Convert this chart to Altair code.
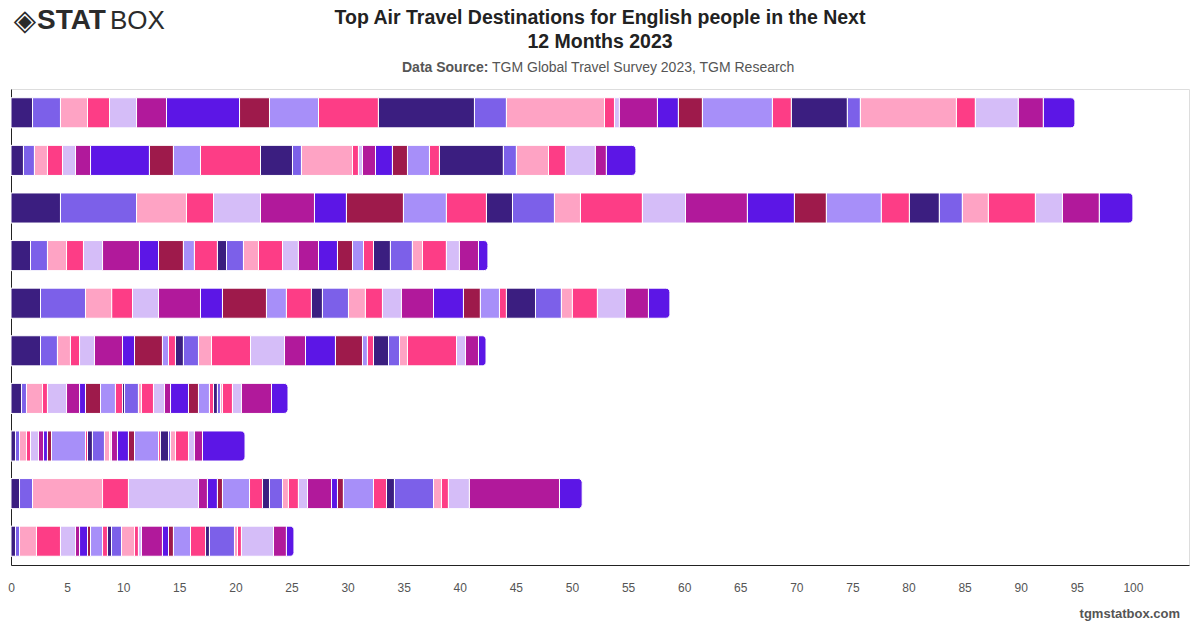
import altair as alt
import pandas as pd

# ---- data -------------------------------------------------------------
rows = [f"Group {i}" for i in range(1, 11)]
destinations = [f"Destination {i:02d}" for i in range(1, 28)]

row1 = [1.92, 2.49, 2.41, 1.96, 2.41, 2.67, 6.51, 2.67, 4.37, 5.34, 8.56, 2.85, 8.74, 0.89,
        0.44, 3.39, 1.87, 2.14, 6.24, 1.69, 4.99, 1.16, 8.56, 1.69, 3.83, 2.23, 2.81]
row2 = [1.11, 0.98, 1.16, 1.34, 1.16, 1.34, 5.25, 2.14, 2.41, 5.35, 2.85, 0.80, 4.55, 0.53,
        0.36, 1.16, 1.51, 1.34, 1.96, 0.89, 5.70, 1.16, 2.86, 1.51, 2.67, 0.98, 2.63]
row3 = [4.41, 6.78, 4.45, 2.41, 4.19, 4.81, 2.85, 5.08, 3.83, 3.57, 2.32, 3.74, 2.32, 5.52,
        3.84, 5.52, 4.19, 2.85, 4.90, 2.50, 2.67, 2.05, 2.32, 4.19, 2.41, 3.29, 2.99]
row4 = [1.74, 1.51, 1.70, 1.51, 1.70, 3.29, 1.70, 2.22, 0.98, 2.05, 0.81, 1.51, 1.34, 2.14,
        1.42, 1.79, 1.69, 1.34, 0.98, 0.89, 1.51, 1.96, 0.90, 2.13, 1.16, 1.70, 0.84]
row5 = [2.63, 4.01, 2.34, 1.85, 2.32, 3.74, 1.96, 3.92, 1.78, 2.23, 0.98, 2.32, 1.51, 1.52,
        1.69, 2.86, 2.67, 1.51, 1.70, 0.62, 2.59, 2.31, 0.98, 2.23, 2.50, 2.05, 1.91]
row6 = [2.63, 1.51, 1.16, 0.81, 1.33, 2.50, 1.07, 2.49, 0.54, 0.62, 0.71, 1.34, 1.16, 3.48,
        3.03, 1.87, 2.67, 2.41, 0.44, 0.54, 1.34, 0.98, 0.71, 4.37, 0.80, 1.16, 0.67]
row7 = [0.94, 0.44, 1.43, 0.44, 1.70, 1.16, 0.53, 1.34, 1.33, 0.63, 0.18, 1.24, 0.27, 1.07,
        0.98, 0.54, 1.60, 0.89, 0.98, 0.36, 0.35, 0.27, 0.18, 0.89, 0.80, 2.68, 1.47]
row8 = [0.40, 0.36, 0.62, 0.36, 0.71, 0.45, 0.35, 0.36, 3.03, 0.18, 0.44, 1.07, 0.45, 0.13,
        0.05, 0.53, 0.98, 0.54, 2.14, 0.17, 0.72, 0.18, 0.44, 1.16, 0.53, 0.72, 3.79]
row9 = [0.76, 1.16, 6.24, 2.31, 6.24, 0.80, 0.89, 0.45, 2.41, 1.16, 0.62, 1.16, 0.53, 0.89,
        0.81, 2.14, 0.53, 0.53, 2.68, 1.16, 0.71, 3.48, 0.71, 0.62, 1.87, 8.03, 2.02]
row10 = [0.40, 0.36, 1.51, 2.14, 1.34, 0.36, 0.71, 0.27, 1.07, 0.44, 0.36, 0.89, 1.16, 0.35,
         0.27, 1.87, 0.54, 0.44, 1.52, 1.34, 0.35, 2.23, 0.27, 0.35, 2.86, 1.15, 0.67]
series = [row1, row2, row3, row4, row5, row6, row7, row8, row9, row10]

tick_values = list(range(0, 101, 5))

palette = ["#3b1e80", "#7c60e9", "#fea3c4", "#fd3d86", "#d5bdf8",
           "#b1199b", "#5c16e6", "#9e1a4b", "#a78ff9", "#fd3d86"]
colors = [palette[i % len(palette)] for i in range(len(destinations))]

records = []
for r, vals in zip(rows, series):
    for i, (d, v) in enumerate(zip(destinations, vals)):
        records.append({"row": r, "dest": d, "idx": i + 1, "value": v})
df = pd.DataFrame(records)

FONT = "Liberation Sans"

# ---- chart ------------------------------------------------------------
x_scale = alt.Scale(domain=[0, 105], nice=False, zero=True)
y_scale = alt.Scale(domain=rows, paddingInner=0.368, paddingOuter=0.184)

base = alt.Chart(df).transform_stack(
    stack="value", groupby=["row"], as_=["x0", "x1"],
    sort=[alt.SortField("idx", order="ascending")]
)

enc = dict(
    y=alt.Y("row:N", scale=y_scale,
            axis=alt.Axis(labels=False, ticks=False, title=None, domainColor="#222222",
                          domainWidth=1)),
    x=alt.X("x0:Q", scale=x_scale,
            axis=alt.Axis(values=tick_values, title=None, ticks=False, grid=False,
                          labelPadding=17, labelFontSize=12, labelColor="#555555",
                          labelFont=FONT, labelFlush=False, domainColor="#222222",
                          domainWidth=1)),
    x2="x1:Q",
    color=alt.Color("dest:N", scale=alt.Scale(domain=destinations, range=colors), legend=None),
)

bars = base.transform_filter(alt.datum.idx < 27).mark_bar(
    stroke="white", strokeWidth=1).encode(**enc)
ends = base.transform_filter(alt.datum.idx == 27).mark_bar(
    stroke="white", strokeWidth=1, cornerRadiusTopRight=4, cornerRadiusBottomRight=4
).encode(**enc)

def txt(text, x, y, font=FONT, **kw):
    return alt.Chart(pd.DataFrame({"t": [text]})).mark_text(font=font, **kw).encode(
        text="t:N", x=alt.value(x), y=alt.value(y))

title = alt.Chart(pd.DataFrame({"a": [0]})).mark_text(
    text=["Top Air Travel Destinations for English people in the Next", "12 Months 2023"],
    font=FONT, fontSize=19.5, fontWeight="bold", color="#222222", lineHeight=24,
    align="center", baseline="middle"
).encode(x=alt.value(589), y=alt.value(-71))

sub1 = txt("Data Source:", 391, -21, fontSize=14, fontWeight="bold", color="#555555",
           align="left", baseline="middle")
sub2 = txt("TGM Global Travel Survey 2023, TGM Research", 481, -21, fontSize=14,
           color="#555555", align="left", baseline="middle")
footer = txt("tgmstatbox.com", 1169, 525, fontSize=13, fontWeight="bold", color="#555555",
             align="right", baseline="middle")
logo_icon = txt("◈", 14, -68, font="DejaVu Sans", fontSize=29, color="#2b2b2b",
                align="center", baseline="middle")
logo_stat = txt("STAT", 26, -68, fontSize=28, fontWeight="bold", color="#2b2b2b",
                align="left", baseline="middle")
logo_box = txt("BOX", 99, -68, fontSize=26, color="#2b2b2b", align="left",
               baseline="middle")

chart = alt.layer(bars, ends, title, sub1, sub2, footer, logo_icon, logo_stat, logo_box).properties(
    width=1178, height=476,
    padding={"left": 11, "top": 89, "right": 11, "bottom": 63},
    autosize=alt.AutoSizeParams(type="none"),
).configure_view(stroke=None).configure(background="white")

chart.save("out.html", embed_options={"renderer": "svg", "actions": False})
